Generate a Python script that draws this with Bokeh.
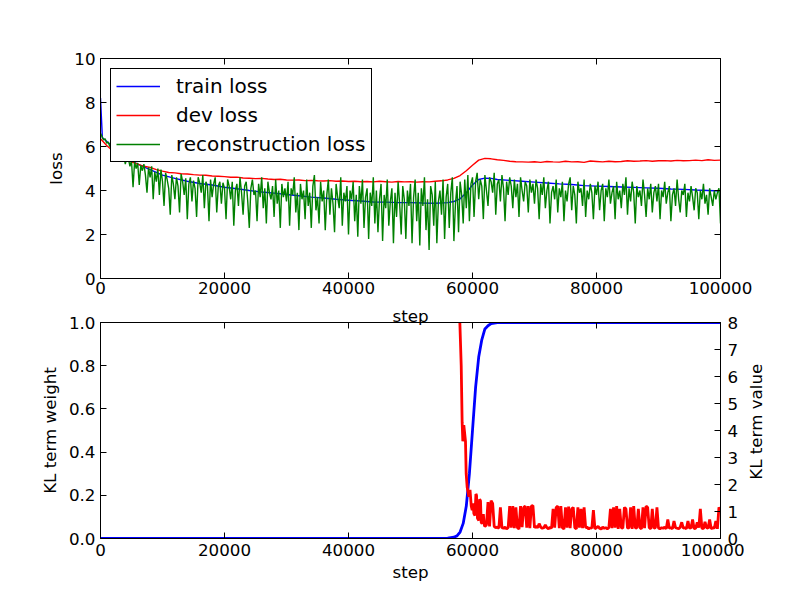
import math
from bokeh.plotting import figure
from bokeh.models import (Range1d, LinearAxis, FixedTicker, PrintfTickFormatter, Legend,
                          LegendItem, CustomLabelingPolicy, Label)
from bokeh.layouts import column, row
from bokeh.embed import file_html
from bokeh.resources import INLINE

# ---------------- data ----------------
train_step = [0, 300, 2000, 4000, 6000, 8000, 10000, 12000, 14000, 16000, 18000, 20000,
              22000, 24000, 26000, 28000, 30000, 32000, 34000, 36000, 38000, 40000,
              42000, 44000, 46000, 48000, 50000, 52000, 54000, 56000, 57000, 58000,
              59000, 60000, 61000, 62000, 63000, 64000, 66000, 68000, 70000, 72000,
              74000, 76000, 78000, 80000, 82000, 84000, 86000, 88000, 90000, 92000,
              94000, 96000, 98000, 100000]
train_loss = [8.2, 6.4, 6.0, 5.5, 5.2, 4.95, 4.7, 4.55, 4.42, 4.32, 4.25, 4.15,
              4.08, 4.0, 3.93, 3.88, 3.82, 3.76, 3.7, 3.66, 3.6, 3.56,
              3.52, 3.48, 3.47, 3.45, 3.45, 3.43, 3.42, 3.45, 3.5, 3.62,
              3.9, 4.25, 4.5, 4.56, 4.55, 4.5, 4.46, 4.42, 4.38, 4.34,
              4.3, 4.27, 4.22, 4.2, 4.18, 4.16, 4.14, 4.12, 4.1, 4.07,
              4.05, 4.02, 4.0, 3.98]

dev_loss = [6.35, 6.05, 5.8, 5.6, 5.45, 5.3, 5.2, 5.1, 5.05, 4.95, 4.88,
            4.82, 4.8, 4.76, 4.75, 4.72, 4.7, 4.69, 4.66, 4.65, 4.63,
            4.6, 4.61, 4.57, 4.56, 4.54, 4.55, 4.52, 4.5, 4.51, 4.48,
            4.47, 4.48, 4.45, 4.46, 4.44, 4.43, 4.45, 4.42, 4.43, 4.41,
            4.42, 4.4, 4.41, 4.39, 4.42, 4.4, 4.38, 4.41, 4.39, 4.4,
            4.38, 4.4, 4.39, 4.42, 4.44, 4.48, 4.55, 4.68, 4.9, 5.15,
            5.38, 5.46, 5.44, 5.4, 5.37, 5.33, 5.31, 5.3, 5.29, 5.31,
            5.28, 5.32, 5.3, 5.29, 5.33, 5.3, 5.31, 5.28, 5.34, 5.32,
            5.3, 5.33, 5.31, 5.32, 5.35, 5.33, 5.34, 5.36, 5.33, 5.35,
            5.36, 5.34, 5.37, 5.35, 5.36, 5.38, 5.36, 5.4, 5.37, 5.38]
dev_step = [1000 * i for i in range(len(dev_loss))]

recon_loss = [
    6.6, 6.45, 6.3, 6.35, 6.15, 6.2, 6.0, 6.1, 5.85, 5.95,
    5.7, 5.8, 5.55, 5.75, 5.4, 5.6, 5.2, 5.5, 5.45, 5.1,
    5.35, 4.15, 5.3, 5.0, 5.25, 4.25, 5.15, 4.9, 5.2, 4.7,
    3.9, 5.05, 4.6, 5.1, 3.6, 4.85, 4.4, 5.0, 3.8, 4.95,
    4.4, 3.3, 4.8, 4.5, 4.1, 2.9, 4.7, 4.3, 3.6, 4.6,
    4.2, 3.0, 4.75, 4.4, 3.8, 4.55, 2.7, 4.3, 4.6, 3.5,
    4.45, 4.1, 2.8, 4.6, 4.35, 3.9, 4.7, 3.2, 4.4, 4.2,
    2.6, 4.5, 3.7, 4.3, 4.6, 3.0, 4.2, 4.4, 3.4, 4.35,
    4.1, 2.7, 4.5, 4.2, 3.6, 4.4, 2.4, 4.0, 4.3, 3.3,
    4.6, 3.9, 2.9, 4.2, 4.4, 3.5, 2.3, 4.1, 4.5, 3.8,
    4.0, 2.6, 4.3, 3.7, 4.6, 3.2, 4.1, 2.5, 4.4, 3.9,
    3.6, 4.2, 2.8, 4.5, 3.4, 4.0, 2.3, 4.3, 3.7, 4.1,
    3.5, 4.4, 2.4, 4.1, 3.8, 4.6, 3.0, 3.9, 2.2, 4.3,
    3.6, 4.0, 2.7, 4.5, 3.3, 3.9, 2.3, 4.2, 4.7, 3.1,
    3.7, 2.5, 4.4, 3.5, 4.0, 2.2, 3.8, 4.5, 2.9, 4.1,
    3.4, 2.1, 4.3, 3.7, 3.2, 4.6, 2.4, 3.9, 3.5, 4.2,
    2.0, 4.0, 3.6, 4.4, 2.6, 3.8, 1.9, 4.2, 3.4, 4.5,
    2.3, 3.7, 4.1, 1.8, 3.9, 3.3, 4.6, 2.5, 4.0, 2.1,
    3.6, 4.3, 1.7, 3.8, 3.2, 4.5, 2.4, 3.5, 4.1, 1.6,
    3.9, 2.8, 4.4, 3.4, 2.0, 4.2, 3.6, 1.8, 4.0, 3.3,
    4.3, 1.6, 3.7, 4.5, 2.6, 3.9, 1.5, 4.1, 3.3, 4.6,
    2.2, 3.6, 1.3, 4.2, 3.8, 2.4, 4.4, 1.6, 3.5, 4.0,
    2.9, 4.5, 1.8, 3.7, 4.3, 2.3, 3.9, 4.6, 1.7, 3.4,
    4.2, 2.1, 4.4, 3.8, 2.5, 4.5, 3.2, 4.7, 2.6, 4.3,
    4.6, 2.8, 4.4, 4.8, 3.6, 4.5, 4.2, 2.7, 4.7, 4.0,
    3.3, 4.6, 4.4, 3.9, 4.8, 2.9, 4.3, 4.5, 3.5, 4.7,
    4.1, 2.6, 4.4, 3.8, 4.6, 4.2, 3.2, 4.5, 3.7, 4.3,
    2.8, 4.6, 4.0, 3.5, 4.4, 4.2, 3.0, 4.5, 3.9, 4.3,
    3.4, 4.5, 4.1, 2.7, 4.3, 3.8, 4.6, 3.2, 4.0, 4.4,
    2.5, 3.9, 4.2, 3.6, 4.5, 3.0, 4.1, 3.7, 4.4, 2.6,
    4.0, 3.5, 4.3, 4.6, 3.1, 4.2, 3.8, 2.5, 4.4, 3.9,
    4.1, 3.3, 4.5, 2.8, 4.0, 3.6, 4.3, 3.9, 2.7, 4.2,
    3.8, 4.4, 3.1, 4.0, 4.3, 2.6, 4.1, 3.7, 4.5, 3.4,
    3.9, 4.2, 2.7, 4.4, 3.6, 4.0, 3.2, 4.3, 3.8, 4.6,
    2.9, 4.1, 3.5, 4.4, 3.9, 2.5, 4.2, 3.7, 4.0, 3.3,
    4.5, 3.8, 2.8, 4.1, 3.6, 4.3, 3.0, 3.9, 4.2, 3.5,
    4.3, 2.7, 4.0, 3.7, 4.4, 3.4, 3.9, 4.2, 2.6, 3.8,
    4.1, 3.3, 4.5, 3.6, 3.0, 4.0, 3.8, 4.3, 2.8, 3.9,
    3.5, 4.2, 3.7, 3.1, 4.1, 3.9, 2.7, 4.0, 3.6, 4.3,
    3.4, 3.8, 2.9, 4.1, 3.7, 3.3, 4.0, 3.6, 3.9, 4.1, 2.5,
]
recon_step = [250 * i for i in range(len(recon_loss))]

kl_weight_step = [0, 55000, 56000, 57000, 57500, 58000, 58500, 59000, 59500, 60000,
                  60500, 61000, 61500, 62000, 62500, 63000, 64000, 100000]
kl_weight = [0.0, 0.001, 0.002, 0.006, 0.012, 0.03, 0.07, 0.15, 0.3, 0.5,
             0.7, 0.84, 0.92, 0.97, 0.985, 0.995, 1.0, 1.0]

kl_early_step = [0, 57000, 57800, 57960, 58180, 58330, 58440, 58600, 58870, 58980,
                 59140, 59300, 59410, 59600, 59800, 59950, 60100, 60220, 60400, 60550,
                 60650, 60800, 61020, 61150, 61290, 61400, 61560, 61750, 61900, 62000]
kl_early_value = [20, 20, 11, 8.0, 6.4, 4.3, 3.6, 4.2, 3.6, 2.4,
                  1.9, 1.7, 1.55, 1.8, 1.2, 1.05, 1.3, 0.92, 0.85, 1.65,
                  1.6, 0.75, 0.67, 1.45, 1.4, 0.6, 0.55, 0.9, 0.5, 0.45]
kl_late_value = [
    0.5, 1.35, 0.45, 1.4, 1.3, 0.45, 0.4, 0.42, 0.38, 1.15, 0.4,
    0.38, 0.42, 0.36, 0.4, 1.2, 0.4, 1.2, 0.38, 1.15, 0.4, 0.35,
    1.2, 0.42, 1.15, 1.2, 0.4, 1.2, 0.38, 1.2, 1.22, 0.4,
    0.45, 0.4, 0.55, 0.42, 0.38, 0.4, 0.5, 0.4, 0.36, 0.42, 0.38,
    1.1, 0.4, 1.15, 1.2, 0.38, 1.2, 0.4, 0.35, 1.15, 0.4, 1.18, 0.38,
    1.1, 1.15, 0.4, 0.36, 1.15, 0.4, 1.1, 0.38, 1.15, 0.4, 0.42,
    0.35, 0.4, 0.38, 1.05, 0.36, 0.4, 0.45, 0.38, 0.35, 0.42, 0.38, 0.4, 0.36, 0.4,
    1.1, 0.38, 1.15, 0.4, 1.2, 0.36, 1.1, 0.4, 0.38, 1.15, 1.1, 0.38, 0.4, 1.15,
    0.36, 1.2, 0.4, 0.38, 1.1, 0.4, 0.36, 1.15, 0.38, 1.2, 1.15, 0.4, 0.36, 1.1,
    0.38, 0.4, 1.15, 0.38, 0.36,
    0.4, 0.38, 0.42, 0.36, 0.7, 0.38, 0.4, 0.36, 0.65, 0.4, 0.38, 0.36, 0.42, 0.6,
    0.38, 0.4, 0.36,
    0.65, 0.38, 0.4, 0.7, 0.36, 0.38, 0.6, 0.4, 1.1, 0.38, 0.36, 0.62, 0.4, 0.38,
    0.7, 0.36, 0.4, 0.38, 0.65, 0.36, 1.15, 1.05,
]
kl_late_step = [62250 + 250 * i for i in range(len(kl_late_value))]
kl_step = kl_early_step + kl_late_step
kl_value = kl_early_value + kl_late_value

x_ticks = [0, 20000, 40000, 60000, 80000, 100000]
loss_ticks = [0, 2, 4, 6, 8, 10]
weight_ticks = [0.0, 0.2, 0.4, 0.6, 0.8, 1.0]
klv_ticks = [0, 1, 2, 3, 4, 5, 6, 7, 8]

# ---------------- styling helpers ----------------
FONT = "DejaVu Sans"
FS = "16.7px"
HIDE = CustomLabelingPolicy(code="for (const i of Array.from(indices)) { indices.unset(i) }\nreturn indices")


def set_label(ax, label, standoff):
    ax.axis_label = label
    ax.axis_label_text_font = FONT
    ax.axis_label_text_font_size = FS
    ax.axis_label_text_font_style = "normal"
    ax.axis_label_text_color = "black"
    ax.axis_label_standoff = standoff


def style_axis(ax, ticks, fmt, label=None, show_labels=True, lab_standoff=5, ax_standoff=5):
    ax.ticker = FixedTicker(ticks=ticks)
    ax.formatter = PrintfTickFormatter(format=fmt)
    ax.major_tick_in = 6
    ax.major_tick_out = 0
    ax.minor_tick_line_color = None
    ax.major_tick_line_color = "black"
    ax.major_tick_line_width = 1
    ax.axis_line_color = "black"
    ax.axis_line_width = 1
    if show_labels:
        ax.major_label_text_font = FONT
        ax.major_label_text_font_size = FS
        ax.major_label_text_color = "black"
        ax.major_label_standoff = lab_standoff
    else:
        ax.major_label_text_font_size = "1px"
        ax.major_label_standoff = 0
        ax.major_label_policy = HIDE
    if label:
        set_label(ax, label, ax_standoff)


def base_fig(width, height, yr, top, bottom, right, **kw):
    p = figure(width=width, height=height, x_range=Range1d(0, 100000), y_range=yr,
               output_backend="svg", toolbar_location=None,
               min_border_left=100, min_border_right=right,
               min_border_top=top, min_border_bottom=bottom, **kw)
    p.grid.visible = False
    p.outline_line_color = "black"
    p.outline_line_width = 1
    p.background_fill_color = "white"
    p.border_fill_color = "white"
    return p


# ---------------- top plot ----------------
p1 = base_fig(784, 301, Range1d(0, 10), 58, 23, 64)
style_axis(p1.xaxis[0], x_ticks, "%d", lab_standoff=3)
style_axis(p1.yaxis[0], loss_ticks, "%d", "loss", lab_standoff=5, ax_standoff=5)
ax_top1 = LinearAxis()
style_axis(ax_top1, x_ticks, "%d", show_labels=False)
p1.add_layout(ax_top1, "above")
ax_right1 = LinearAxis()
style_axis(ax_right1, loss_ticks, "%d", show_labels=False)
p1.add_layout(ax_right1, "right")

r_train = p1.line(train_step, train_loss, line_color="#0000ff", line_width=1.4)
r_dev = p1.line(dev_step, dev_loss, line_color="#ff0000", line_width=1.4)
r_rec = p1.line(recon_step, recon_loss, line_color="#008000", line_width=1.4)

legend = Legend(items=[LegendItem(label="train loss", renderers=[r_train]),
                       LegendItem(label="dev loss", renderers=[r_dev]),
                       LegendItem(label="reconstruction loss", renderers=[r_rec])],
                location="top_left")
legend.label_text_font = FONT
legend.label_text_font_size = "20px"
legend.label_text_color = "black"
legend.border_line_color = "black"
legend.border_line_width = 1
legend.border_line_alpha = 1
legend.background_fill_color = "white"
legend.background_fill_alpha = 1
legend.glyph_width = 44
legend.label_standoff = 16
legend.label_width = 190
legend.padding = 5
legend.spacing = 5
legend.margin = 10
p1.add_layout(legend)

# ---------------- bottom plot ----------------
p2 = base_fig(744, 283, Range1d(0, 1), 21, 44, 24, extra_y_ranges={"kl": Range1d(0, 8)})
style_axis(p2.xaxis[0], x_ticks, "%d", "step", lab_standoff=5, ax_standoff=3)
style_axis(p2.yaxis[0], weight_ticks, "%.1f", "KL term weight", lab_standoff=5, ax_standoff=6)
# top ticks of the lower panel; its axis title is the upper panel's "step"
ax_top2 = LinearAxis()
style_axis(ax_top2, x_ticks, "%d", show_labels=False)
set_label(ax_top2, "step", -7)
p2.add_layout(ax_top2, "above")
ax_right2 = LinearAxis(y_range_name="kl")
style_axis(ax_right2, klv_ticks, "%d", lab_standoff=7)
p2.add_layout(ax_right2, "right")

p2.line(kl_weight_step, kl_weight, line_color="#0000ff", line_width=2.8)
p2.line(kl_step, kl_value, line_color="#ff0000", line_width=2.8, y_range_name="kl")

# narrow strip that carries the right-axis title, reading bottom-to-top
p3 = figure(width=40, height=283, x_range=Range1d(0, 40), y_range=Range1d(0, 283),
            output_backend="svg", toolbar_location=None, x_axis_type=None, y_axis_type=None,
            min_border_left=0, min_border_right=0, min_border_top=0, min_border_bottom=0)
p3.grid.visible = False
p3.outline_line_color = None
p3.background_fill_color = "white"
p3.border_fill_color = "white"
p3.add_layout(Label(x=11, y=153, text="KL term value", text_align="center",
                    text_baseline="middle", angle=math.pi / 2, text_font=FONT,
                    text_font_size=FS, text_color="black"))

layout = column(p1, row(p2, p3))
open("out.html", "w").write(file_html(layout, INLINE))
